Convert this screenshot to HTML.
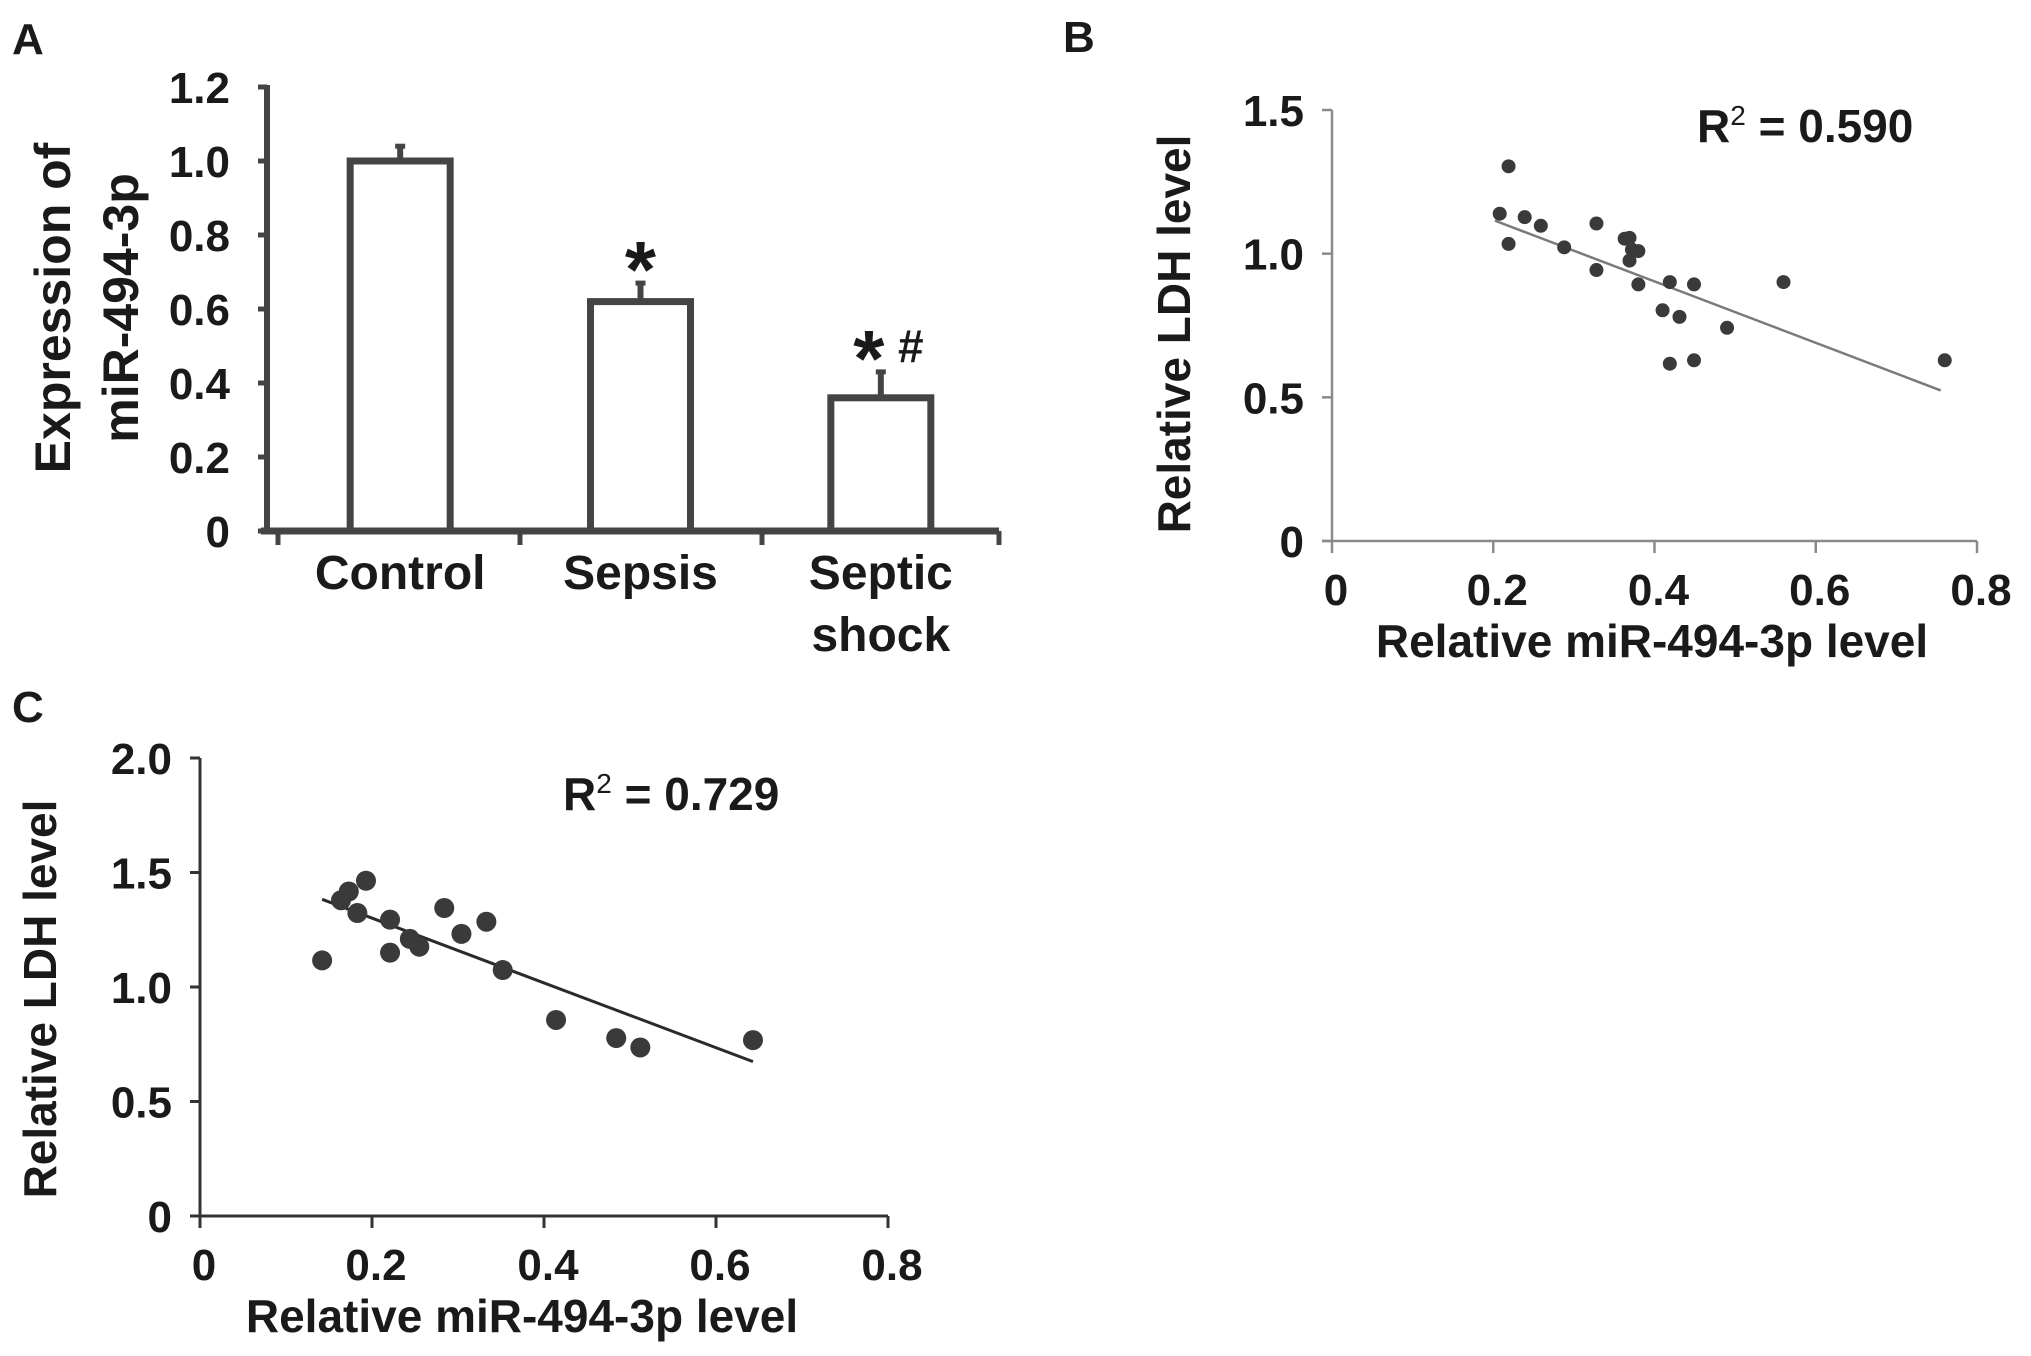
<!DOCTYPE html>
<html><head><meta charset="utf-8">
<style>
html,body{margin:0;padding:0;background:#fff;}
svg{display:block;}
text{font-family:"Liberation Sans",sans-serif;fill:#1a1a1a;font-weight:bold;}
</style></head>
<body>
<svg id="fig" width="2031" height="1356" viewBox="0 0 2031 1356">
  <text x="12" y="54" font-size="44" font-weight="normal">A</text>
  <text x="1063" y="52" font-size="44" font-weight="normal">B</text>
  <text x="12" y="722" font-size="44" font-weight="normal">C</text>
</svg>
<script>
// ---------- Panel A data ----------
const aCategories = ["Control", "Sepsis", "Septic shock"];
const aValues = [1.00, 0.62, 0.36];
const aErrors = [0.04, 0.05, 0.07];
const aMarks = ["", "*", "*#"];
const aTicks = [0, 0.2, 0.4, 0.6, 0.8, 1.0, 1.2];
const aTickLabels = ["0", "0.2", "0.4", "0.6", "0.8", "1.0", "1.2"];
// ---------- Panel B data ----------
const bX = [0.219,0.208,0.239,0.259,0.219,0.288,0.328,0.328,0.363,0.369,0.372,0.380,0.369,0.380,0.419,0.449,0.560,0.410,0.431,0.490,0.419,0.449,0.760];
const bY = [1.304,1.139,1.127,1.097,1.034,1.022,1.105,0.943,1.052,1.055,1.014,1.009,0.976,0.893,0.901,0.893,0.901,0.803,0.780,0.742,0.617,0.629,0.629];
const bFitX = [0.202, 0.755];
const bFitY = [1.115, 0.524];
const bXTicks = [0, 0.2, 0.4, 0.6, 0.8];
const bXTickLabels = ["0", "0.2", "0.4", "0.6", "0.8"];
const bYTicks = [0, 0.5, 1.0, 1.5];
const bYTickLabels = ["0", "0.5", "1.0", "1.5"];
// ---------- Panel C data ----------
const cX = [0.142,0.164,0.173,0.193,0.183,0.221,0.221,0.244,0.255,0.284,0.304,0.333,0.352,0.414,0.484,0.512,0.643];
const cY = [1.116,1.379,1.417,1.464,1.323,1.294,1.150,1.210,1.176,1.345,1.232,1.285,1.074,0.856,0.777,0.736,0.768];
const cFitX = [0.142, 0.643];
const cFitY = [1.383, 0.674];
const cXTicks = [0, 0.2, 0.4, 0.6, 0.8];
const cXTickLabels = ["0", "0.2", "0.4", "0.6", "0.8"];
const cYTicks = [0, 0.5, 1.0, 1.5, 2.0];
const cYTickLabels = ["0", "0.5", "1.0", "1.5", "2.0"];

const NS = "http://www.w3.org/2000/svg";
const svg = document.getElementById("fig");
function mk(tag, attrs, parent, txt) {
  const e = document.createElementNS(NS, tag);
  for (const k in attrs) e.setAttribute(k, attrs[k]);
  if (txt !== undefined) e.textContent = txt;
  (parent || svg).appendChild(e);
  return e;
}

// ===== Panel A =====
(function () {
  const g = mk("g", {});
  
  
  const x0 = 267, xEnd = 999, y0 = 531, yTop = 87;
  const ys = v => y0 - (v / 1.2) * (y0 - yTop);
  const col = "#444";
  const slotW = (xEnd - 278) / 3;
  const bw = 100;
  aCategories.forEach((c, i) => {
    const cx = 278 + slotW * (i + 0.5) + 2;
    const top = ys(aValues[i]);
    const eb = ys(aValues[i] + aErrors[i]);
    const el = mk("line", {x1: cx, x2: cx, y1: top, y2: eb, stroke: col, "stroke-width": 6}, g);
    
    
    const cap = mk("line", {x1: cx - 5, x2: cx + 5, y1: eb, y2: eb, stroke: col, "stroke-width": 5}, g);
    
    
    const r = mk("rect", {x: cx - bw / 2, y: top, width: bw, height: y0 - top, fill: "#fff", stroke: col, "stroke-width": 7}, g);
    
    
    const words = c.split(" ");
    const lines = words.length > 1 ? words : [c];
    lines.forEach((w, j) => {
      const t = mk("text", {x: cx, y: 589 + j * 62, "font-size": 48, "text-anchor": "middle"}, g, w);
      
      
    });
    if (aMarks[i]) {
      const t = mk("text", {x: aMarks[i].length > 1 ? cx - 12 : cx, y: eb + 14, "font-size": 80, "font-weight": "normal", "text-anchor": "middle"}, g, "*");
      
      
      if (aMarks[i].indexOf("#") >= 0) {
        const h = mk("text", {x: cx + 30, y: eb - 10, "font-size": 46, "font-weight": "normal", "text-anchor": "middle"}, g, "#");
        
        
      }
    }
  });
  const ya = mk("line", {x1: x0, x2: x0, y1: yTop - 2, y2: y0 + 3, stroke: col, "stroke-width": 6}, g);
  
  
  const xa = mk("line", {x1: x0 - 6, x2: xEnd, y1: y0, y2: y0, stroke: col, "stroke-width": 7}, g);
  
  
  [278, 520, 762, 999].forEach((tx, i) => {
    const l = mk("line", {x1: tx, x2: tx, y1: y0, y2: y0 + 14, stroke: col, "stroke-width": 5}, g);
    
    
  });
  aTicks.forEach((v, i) => {
    const y = ys(v);
    const l = mk("line", {x1: x0 - 9, x2: x0, y1: y, y2: y, stroke: col, "stroke-width": 5}, g);
    
    
    const t = mk("text", {x: 230, y: y + 16, "font-size": 44, "text-anchor": "end"}, g, aTickLabels[i]);
    
    
  });
  const t1 = mk("text", {x: 0, y: 0, "font-size": 50, "text-anchor": "middle", transform: "translate(70,308) rotate(-90)"}, g, "Expression of");
  
  
  const t2 = mk("text", {x: 0, y: 0, "font-size": 50, "text-anchor": "middle", transform: "translate(138,308) rotate(-90)"}, g, "miR-494-3p");
  
  
})();

// ===== scatter helper =====
function scatter(opt) {
  const g = mk("g", {});
  
  
  const xs = v => opt.x0 + (v / opt.xMax) * (opt.x1 - opt.x0);
  const ys = v => opt.y0 - (v / opt.yMax) * (opt.y0 - opt.y1);
  const ya = mk("line", {x1: opt.x0, x2: opt.x0, y1: opt.y1, y2: opt.y0, stroke: opt.axisCol, "stroke-width": opt.axisW}, g);
  
  
  const xa = mk("line", {x1: opt.x0 - 10, x2: opt.x1, y1: opt.y0, y2: opt.y0, stroke: opt.axisCol, "stroke-width": opt.axisW}, g);
  
  
  opt.xTicks.forEach((v, i) => {
    const x = xs(v);
    const l = mk("line", {x1: x, x2: x, y1: opt.y0, y2: opt.y0 + 12, stroke: opt.axisCol, "stroke-width": opt.axisW}, g);
    
    
    const t = mk("text", {x: x + 4, y: opt.y0 + 64, "font-size": 44, "text-anchor": "middle"}, g, opt.xLabels[i]);
    
    
  });
  opt.yTicks.forEach((v, i) => {
    const y = ys(v);
    const l = mk("line", {x1: opt.x0 - 10, x2: opt.x0, y1: y, y2: y, stroke: opt.axisCol, "stroke-width": opt.axisW}, g);
    
    
    const t = mk("text", {x: opt.x0 - 28, y: y + 16, "font-size": 44, "text-anchor": "end"}, g, opt.yLabels[i]);
    
    
  });
  const fl = mk("line", {x1: xs(opt.fitX[0]), y1: ys(opt.fitY[0]), x2: xs(opt.fitX[1]), y2: ys(opt.fitY[1]), stroke: opt.lineCol, "stroke-width": opt.lineW}, g);
  
  
  opt.px.forEach((v, i) => {
    const c = mk("circle", {cx: xs(v), cy: ys(opt.py[i]), r: opt.r, fill: "#3a3a3a"}, g);
    
    
  });
  const xt = mk("text", {x: opt.xTitleX, y: opt.y0 + 116, "font-size": 46, "text-anchor": "middle"}, g, "Relative miR-494-3p level");
  
  
  const yt = mk("text", {x: 0, y: 0, "font-size": 46, "text-anchor": "middle", transform: "translate(" + opt.yTitleX + "," + opt.yTitleY + ") rotate(-90)"}, g, "Relative LDH level");
  
  
  const r = mk("text", {x: opt.rX, y: opt.rY, "font-size": 46}, g);
  
  
  mk("tspan", {}, r, "R");
  mk("tspan", {dy: -17, "font-size": 28, "font-weight": "normal"}, r, "2");
  mk("tspan", {dy: 17}, r, " = " + opt.r2);
}

scatter({name: "panel-b-scatter", x0: 1332, x1: 1977, y0: 541, y1: 110, xMax: 0.8, yMax: 1.5,
  axisCol: "#8a8a8a", axisW: 2.5, lineCol: "#7a7a7a", lineW: 2.5, r: 7,
  px: bX, py: bY, fitX: bFitX, fitY: bFitY,
  xTicks: bXTicks, xLabels: bXTickLabels, yTicks: bYTicks, yLabels: bYTickLabels,
  xTitleX: 1652, yTitleX: 1190, yTitleY: 334, rX: 1697, rY: 142, r2: "0.590"});

scatter({name: "panel-c-scatter", x0: 200, x1: 888, y0: 1216, y1: 758, xMax: 0.8, yMax: 2.0,
  axisCol: "#333", axisW: 3, lineCol: "#2a2a2a", lineW: 3, r: 10,
  px: cX, py: cY, fitX: cFitX, fitY: cFitY,
  xTicks: cXTicks, xLabels: cXTickLabels, yTicks: cYTicks, yLabels: cYTickLabels,
  xTitleX: 522, yTitleX: 56, yTitleY: 999, rX: 563, rY: 810, r2: "0.729"});
</script>
</body></html>
